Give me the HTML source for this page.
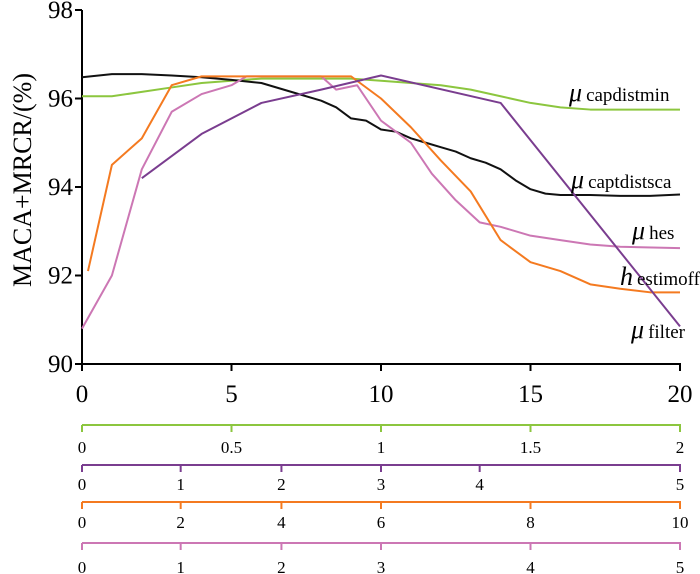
<!DOCTYPE html>
<html><head><meta charset="utf-8"><style>
html,body{margin:0;padding:0;background:#fff;}
svg{display:block;font-family:"Liberation Serif",serif;}
</style></head><body>
<svg id="chart" width="700" height="574" viewBox="0 0 700 574" xmlns="http://www.w3.org/2000/svg"></svg>
<script>
const xTicks=[0,5,10,15,20];
const yTicks=[90,92,94,96,98];
const blackX=[0,1,2,3,4,5,6,7,8,8.5,9,9.5,10,10.5,11,11.5,12,12.5,13,13.5,14,14.5,15,15.5,16,17,18,19,20];
const blackY=[96.48,96.55,96.55,96.52,96.48,96.42,96.35,96.15,95.95,95.8,95.55,95.5,95.3,95.25,95.1,95.0,94.9,94.8,94.65,94.55,94.4,94.15,93.95,93.85,93.82,93.82,93.8,93.8,93.83];
const greenX=[0,1,2,3,4,5,6,7,8,9,10,11,12,13,14,15,16,17,18,19,20];
const greenY=[96.05,96.05,96.15,96.25,96.35,96.4,96.45,96.45,96.45,96.45,96.4,96.35,96.3,96.2,96.05,95.9,95.8,95.75,95.75,95.75,95.75];
const purpleX=[2,4,6,8,10,14,20];
const purpleY=[94.2,95.2,95.9,96.2,96.52,95.9,90.85];
const orangeX=[0.2,1,2,3,4,5,6,7,8,9,10,11,12,13,14,15,16,17,18,19,20];
const orangeY=[92.1,94.5,95.1,96.3,96.5,96.5,96.5,96.5,96.5,96.5,96.0,95.35,94.6,93.9,92.8,92.3,92.1,91.8,91.7,91.62,91.62];
const pinkX=[0,1,2,3,4,5,5.5,7,8,8.5,9.2,10,11,11.7,12.5,13.3,14,15,16,17,18,20];
const pinkY=[90.8,92.0,94.4,95.7,96.1,96.3,96.5,96.5,96.5,96.2,96.3,95.5,95.0,94.3,93.7,93.2,93.1,92.9,92.8,92.7,92.65,92.62];
const greenAxisLabels=["0","0.5","1","1.5","2"];
const greenAxisPos=[0,5,10,15,20];
const purpleAxisLabels=["0","1","2","3","4","5"];
const purpleAxisPos=[0,3.3,6.67,10,13.3,20];
const orangeAxisLabels=["0","2","4","6","8","10"];
const orangeAxisPos=[0,3.3,6.67,10,15,20];
const pinkAxisLabels=["0","1","2","3","4","5"];
const pinkAxisPos=[0,3.3,6.67,10,15,20];

const NS="http://www.w3.org/2000/svg";
const svg=document.getElementById('chart');
const X=v=>82+v*29.9;
const Y=v=>364-(v-90)*44.25;
function mk(tag,attrs,parent){const e=document.createElementNS(NS,tag);for(const k in attrs)e.setAttribute(k,attrs[k]);(parent||svg).appendChild(e);return e;}

let ya=mk('line',{x1:82,y1:Y(98),x2:82,y2:364,stroke:'#000','stroke-width':2});


let xa=mk('line',{x1:81,y1:364,x2:681,y2:364,stroke:'#000','stroke-width':2});


yTicks.forEach(v=>{
  let t=mk('line',{x1:75,y1:Y(v),x2:82,y2:Y(v),stroke:'#000','stroke-width':2});
  
  
  let l=mk('text',{x:73,y:Y(v)+8,'text-anchor':'end','font-size':25});
  l.textContent=v;
  
  
});
xTicks.forEach(v=>{
  let t=mk('line',{x1:X(v),y1:364,x2:X(v),y2:371,stroke:'#000','stroke-width':2});
  
  
  let l=mk('text',{x:X(v),y:402,'text-anchor':'middle','font-size':25});
  l.textContent=v;
  
  
});
let yt=mk('text',{x:0,y:0,'text-anchor':'middle','font-size':26,transform:'translate(31,180) rotate(-90)'});
yt.textContent='MACA+MRCR/(%)';



function series(xs,ys,color,name){
  const p=mk('polyline',{points:xs.map((x,i)=>X(x)+','+Y(ys[i])).join(' '),fill:'none',stroke:color,'stroke-width':2,'stroke-linejoin':'round'});
  
  
}
series(greenX,greenY,'#8cc63f','line-capdistmin');
series(blackX,blackY,'#111','line-captdistsca');
series(pinkX,pinkY,'#cc77b4','line-hes');
series(orangeX,orangeY,'#f47a20','line-estimoff');
series(purpleX,purpleY,'#7a3d8f','line-filter');

function label(x,y,sym,sub,name){
  const t=mk('text',{x:x,y:y,'font-size':26});
  const a=mk('tspan',{'font-style':'italic'},t);a.textContent=sym;
  const b=mk('tspan',{'font-size':19,dx:4},t);b.textContent=sub;
  
  
}
label(569,101,'μ','capdistmin','label-capdistmin');
label(571,188,'μ','captdistsca','label-captdistsca');
label(632,239,'μ','hes','label-hes');
label(620,285,'h','estimoff','label-estimoff');
label(631,338,'μ','filter','label-filter');

function secAxis(yLine,yLab,color,pos,labs,name){
  const g=mk('g',{});
  
  
  mk('line',{x1:82,y1:yLine,x2:681,y2:yLine,stroke:color,'stroke-width':2},g);
  pos.forEach((p,i)=>{
    mk('line',{x1:X(p),y1:yLine,x2:X(p),y2:yLine+7,stroke:color,'stroke-width':2},g);
    const l=mk('text',{x:X(p),y:yLab,'text-anchor':'middle','font-size':17},g);
    l.textContent=labs[i];
  });
}
secAxis(425,453,'#8cc63f',greenAxisPos,greenAxisLabels,'capdistmin-axis');
secAxis(465,490,'#7a3d8f',purpleAxisPos,purpleAxisLabels,'filter-axis');
secAxis(502,528,'#f47a20',orangeAxisPos,orangeAxisLabels,'estimoff-axis');
secAxis(543,573,'#cc77b4',pinkAxisPos,pinkAxisLabels,'hes-axis');
</script>
</body></html>
